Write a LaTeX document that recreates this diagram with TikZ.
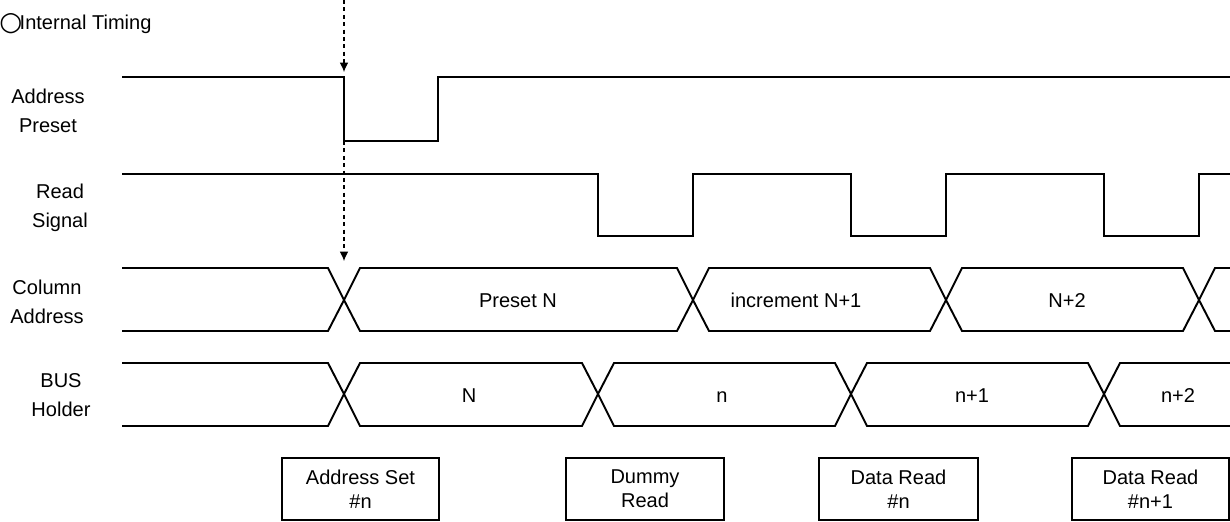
\documentclass[tikz,border=0pt]{standalone}
\usepackage{fontspec}
\setmainfont{Liberation Sans}
\newfontfamily\symfont{DejaVu Sans}
\usetikzlibrary{arrows.meta}
\tikzset{
  wave/.style={line width=1.1pt, line join=miter},
  bx/.style={line width=0.9pt},
  lbl/.style={align=center, inner sep=0, font=\fontsize{11.4}{16.8}\selectfont},
  val/.style={inner sep=0, text height=8.2pt, text depth=0pt, font=\fontsize{11.4}{13.6}\selectfont},
  boxtxt/.style={align=center, inner sep=0, font=\fontsize{11.4}{13.6}\selectfont},
  timemark/.style={dash pattern=on 2.3pt off 1.9pt, line width=0.6pt, >={Latex[length=5.4pt,width=5pt]}, ->}
}
\begin{document}
\begin{tikzpicture}[x=0.02cm, y=-0.02cm]
\useasboundingbox (0,0) rectangle (1230,521);
\node[anchor=west, val] (title) at (-1,22) {{\symfont\fontsize{15}{15}\selectfont\raisebox{-0.9pt}{○}}\kern-1.5pt Internal Timing};
\node[lbl] (ap) at (48,111) {Address\\Preset};
\node[lbl] (rs) at (60,208) {Read\\Signal};
\node[lbl] (ca) at (47,302) {Column\\Address};
\node[lbl] (bh) at (61,395) {BUS\\Holder};
\coordinate (t0) at (344,0);
\coordinate (t1) at (344,72);
\coordinate (t2) at (344,141);
\coordinate (t3) at (344,261);
\draw[timemark] (t0) -- (t1);
\draw[timemark] (t2) -- (t3);
\draw[wave] (122,77) -- (344,77) -- (344,141) -- (438,141) -- (438,77) -- (1230,77);
\draw[wave] (122,174) -- (598,174) -- (598,236) -- (693,236) -- (693,174) -- (851,174) -- (851,236) -- (946,236) -- (946,174) -- (1104,174) -- (1104,236) -- (1199,236) -- (1199,174) -- (1230,174);
\draw[wave] (122,268) -- (328,268) -- (344,300) -- (328,331) -- (122,331);
\draw[wave] (344,300) -- (360,268) -- (677,268) -- (693,300) -- (677,331) -- (360,331) -- cycle;
\draw[wave] (693,300) -- (709,268) -- (930,268) -- (946,300) -- (930,331) -- (709,331) -- cycle;
\draw[wave] (946,300) -- (962,268) -- (1183,268) -- (1199,300) -- (1183,331) -- (962,331) -- cycle;
\draw[wave] (1230,268) -- (1215,268) -- (1199,300) -- (1215,331) -- (1230,331);
\node[val] (cpreset) at (518,300) {Preset N};
\node[val] (cinc) at (796,300) {increment N+1};
\node[val] (cnext) at (1067,300) {N+2};
\draw[wave] (122,363) -- (328,363) -- (344,394) -- (328,426) -- (122,426);
\draw[wave] (344,394) -- (360,363) -- (582,363) -- (598,394) -- (582,426) -- (360,426) -- cycle;
\draw[wave] (598,394) -- (614,363) -- (835,363) -- (851,394) -- (835,426) -- (614,426) -- cycle;
\draw[wave] (851,394) -- (867,363) -- (1088,363) -- (1104,394) -- (1088,426) -- (867,426) -- cycle;
\draw[wave] (1230,363) -- (1120,363) -- (1104,394) -- (1120,426) -- (1230,426);
\node[val] (bN) at (469,395) {N};
\node[val] (bn) at (722,395) {n};
\node[val] (bn1) at (972,395) {n+1};
\node[val] (bn2) at (1178,395) {n+2};
\draw[bx] (282,458) rectangle (439,520) node[pos=.5, boxtxt] (setn) {Address Set\\\#n};
\draw[bx] (566,458) rectangle (724,520) node[pos=.5, boxtxt] (dummy) {Dummy\\Read};
\draw[bx] (819,458) rectangle (978,520) node[pos=.5, boxtxt] (readn) {Data Read\\\#n};
\draw[bx] (1072,458) rectangle (1229,520) node[pos=.5, boxtxt] (readn1) {Data Read\\\#n+1};
\end{tikzpicture}
\end{document}
